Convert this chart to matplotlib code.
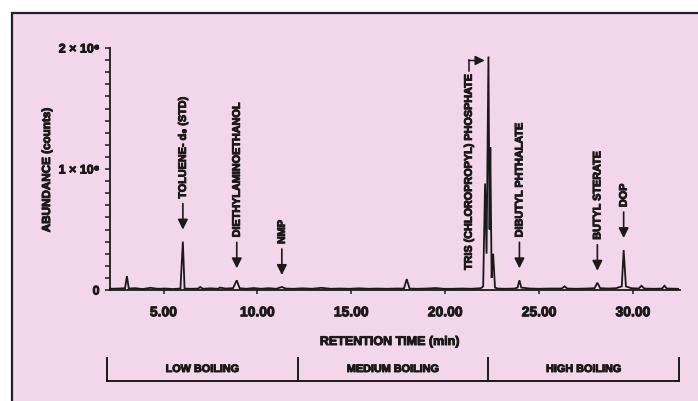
import matplotlib
matplotlib.use("Agg")
import matplotlib.pyplot as plt
import matplotlib.patheffects as pe
from matplotlib.text import Text
from matplotlib.patches import Rectangle
from matplotlib.ticker import MultipleLocator, FixedLocator

# ---------------- data ----------------
trace_time = [2.15, 2.60, 2.95, 3.05, 3.15, 3.50, 3.90, 4.30, 4.70, 5.10, 5.50, 5.90,
              6.03, 6.12, 6.50, 6.85, 6.95, 7.10, 7.50, 7.90, 8.00, 8.30, 8.70, 8.90,
              9.05, 9.40, 9.80, 10.20, 10.60, 11.00, 11.30, 11.50, 11.90, 12.40, 12.90,
              13.40, 13.90, 14.40, 14.90, 15.40, 15.90, 16.40, 16.90, 17.40, 17.80,
              17.95, 18.10, 18.50, 19.00, 19.50, 19.90, 20.40, 20.90, 21.40, 21.90,
              22.02, 22.12, 22.20, 22.30, 22.36, 22.40, 22.47, 22.55, 22.65, 22.80,
              23.20, 23.70, 23.85, 23.95, 24.05, 24.50, 25.00, 25.60, 26.20, 26.35,
              26.50, 27.00, 27.50, 27.95, 28.10, 28.25, 28.70, 29.10, 29.40, 29.50,
              29.62, 29.90, 30.30, 30.45, 30.60, 31.10, 31.55, 31.67, 31.80, 32.40]
trace_abund_m = [0.010, 0.012, 0.015, 0.115, 0.012, 0.015, 0.008, 0.018, 0.010, 0.012, 0.008, 0.012,
                 0.400, 0.012, 0.010, 0.012, 0.025, 0.010, 0.014, 0.010, 0.020, 0.012, 0.015, 0.080,
                 0.015, 0.010, 0.016, 0.010, 0.015, 0.010, 0.025, 0.012, 0.010, 0.014, 0.010,
                 0.018, 0.010, 0.012, 0.010, 0.014, 0.010, 0.012, 0.010, 0.012, 0.012,
                 0.090, 0.012, 0.010, 0.012, 0.016, 0.010, 0.010, 0.012, 0.010, 0.015,
                 0.030, 0.880, 0.300, 1.930, 0.500, 1.180, 0.100, 0.300, 0.020, 0.012,
                 0.010, 0.012, 0.020, 0.080, 0.020, 0.012, 0.010, 0.012, 0.012, 0.030,
                 0.012, 0.010, 0.012, 0.015, 0.060, 0.015, 0.012, 0.015, 0.030, 0.330,
                 0.030, 0.015, 0.012, 0.035, 0.012, 0.010, 0.012, 0.035, 0.012, 0.010]
trace_abund = [v * 1e6 for v in trace_abund_m]

peak_labels = ["TOLUENE- d₈ (STD)", "DIETHYLAMINOETHANOL", "NMP",
               "DIBUTYL PHTHALATE", "BUTYL STERATE", "DOP"]
peak_times = [6.03, 8.90, 11.30, 23.95, 28.10, 29.50]
peak_heights = [0.40e6, 0.08e6, 0.025e6, 0.08e6, 0.06e6, 0.33e6]

main_label = "TRIS (CHLOROPROPYL) PHOSPHATE"
main_time = 22.30
main_height = 1.93e6

x_ticks = [5, 10, 15, 20, 25, 30]
x_tick_labels = ["5.00", "10.00", "15.00", "20.00", "25.00", "30.00"]
y_ticks = [0, 1e6, 2e6]
y_tick_labels = ["0", "1 × 10⁶", "2 × 10⁶"]

region_labels = ["LOW BOILING", "MEDIUM BOILING", "HIGH BOILING"]
region_bounds = [2.0, 12.15, 22.3, 32.45]

# ---------------- style ----------------
FONT = ["Liberation Sans", "DejaVu Sans"]
plt.rcParams["font.family"] = FONT
plt.rcParams["font.weight"] = "bold"
INK = "#1a1a1a"
PINK = "#f2d6ea"

W, H = 698, 401
fig = plt.figure(figsize=(W / 100, H / 100), dpi=100)
fig.patch.set_facecolor("white")
fig.patches.append(Rectangle((12 / W, -0.05), 1.2, (H - 13) / H + 0.05,
                             transform=fig.transFigure, facecolor=PINK,
                             edgecolor="#222222", linewidth=1.6, zorder=-5))

ax = fig.add_axes([110 / W, 1 - 290 / H, 570 / W, 242 / H])
ax.patch.set_alpha(0)
ax.set_xlim(2.15, 32.5)
ax.set_ylim(0, 2e6)
PX = 2e6 / 242.0          # data units per pixel (vertical)

ax.plot(trace_time, trace_abund, color=INK, lw=1.3, solid_joinstyle="miter", clip_on=False)

for s in ("top", "right"):
    ax.spines[s].set_visible(False)
for s in ("left", "bottom"):
    ax.spines[s].set_linewidth(1.3)
    ax.spines[s].set_color(INK)

ax.xaxis.set_major_locator(FixedLocator(x_ticks))
ax.set_xticklabels(x_tick_labels)
ax.yaxis.set_major_locator(FixedLocator(y_ticks))
ax.set_yticklabels(y_tick_labels)
ax.yaxis.set_minor_locator(MultipleLocator(1e5))
ax.tick_params(axis="x", direction="out", length=3, width=1.1, pad=8, labelsize=10, colors=INK)
ax.tick_params(axis="y", which="both", direction="out", length=3.5, width=1.1, pad=4,
               labelsize=9, colors=INK)

TXT = 7.8
# peak annotations
for lab, t, h in zip(peak_labels, peak_times, peak_heights):
    tip = h + 12 * PX
    start = tip + 26 * PX
    ax.annotate("", xy=(t, tip), xytext=(t, start),
                arrowprops=dict(arrowstyle="-|>", color=INK, lw=1.2,
                                mutation_scale=15, shrinkA=0, shrinkB=0))
    ax.text(t, start + 5 * PX, lab, rotation=90, ha="center", va="bottom",
            fontsize=TXT, fontweight="bold", color=INK)

# main peak label with bracket arrow
t_lab = 21.25
y_top = main_height - 4 * PX
ax.text(t_lab, 0.165e6, main_label, rotation=90, ha="center", va="bottom",
        fontsize=TXT, fontweight="bold", color=INK)
ax.plot([t_lab, t_lab], [y_top - 11 * PX, y_top], color=INK, lw=1.1)
ax.annotate("", xy=(main_time - 0.2, y_top), xytext=(t_lab, y_top),
            arrowprops=dict(arrowstyle="-|>", color=INK, lw=1.1,
                            mutation_scale=14, shrinkA=0, shrinkB=0))

# axis titles
fig.text(47 / W, 1 - 170 / H, "ABUNDANCE (counts)", rotation=90, ha="center", va="center",
         fontsize=8.4, fontweight="bold", color=INK)
fig.text(390 / W, 1 - 342 / H, "RETENTION TIME (min)", ha="center", va="center",
         fontsize=9, fontweight="bold", color=INK)

# boiling range bracket
y_line = -91 * PX
y_tick_top = -68 * PX
ax.plot([region_bounds[0], region_bounds[-1]], [y_line, y_line], color=INK, lw=1.4, clip_on=False)
for b in region_bounds:
    ax.plot([b, b], [y_line, y_tick_top], color=INK, lw=1.4, clip_on=False)
for i, lab in enumerate(region_labels):
    ax.text((region_bounds[i] + region_bounds[i + 1]) / 2, -79 * PX, lab,
            ha="center", va="center", fontsize=7.8, fontweight="bold", color=INK, clip_on=False)

# heavier, poster-like lettering
for t in fig.findobj(Text):
    t.set_path_effects([pe.withStroke(linewidth=0.7, foreground=INK)])

fig.savefig("out.png", dpi=100)
